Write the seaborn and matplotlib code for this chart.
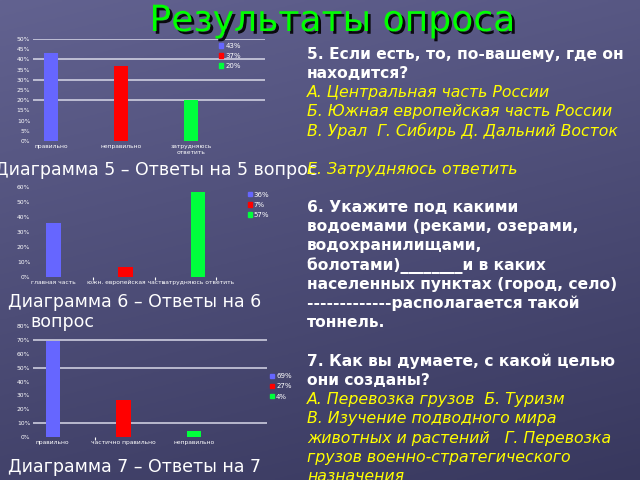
import numpy as np
import matplotlib
matplotlib.use("Agg")
import matplotlib.pyplot as plt
import matplotlib.patheffects as pe
from matplotlib.patches import Patch
import seaborn as sns

# --- data -------------------------------------------------------------
q5_labels = ["правильно", "неправильно", "затрудняюсь\nответить"]
q5_values = [43, 37, 20]
q5_legend = ["43%", "37%", "20%"]

q6_labels = ["главная часть", "южн. европейская часть", "затрудняюсь ответить"]
q6_values = [36, 7, 57]
q6_legend = ["36%", "7%", "57%"]

q7_labels = ["правильно", "частично правильно", "неправильно"]
q7_values = [69, 27, 4]
q7_legend = ["69%", "27%", "4%"]

bar_colors = ["#6666ff", "#ff0000", "#00ff3c"]

right_lines = [
    ("5. Если есть, то, по-вашему, где он", "q"),
    ("находится?", "q"),
    ("А. Центральная часть России", "a"),
    ("Б. Южная европейская часть России", "a"),
    ("В. Урал  Г. Сибирь Д. Дальний Восток", "a"),
    ("", "q"),
    ("Е. Затрудняюсь ответить", "a"),
    ("", "q"),
    ("6. Укажите под какими", "q"),
    ("водоемами (реками, озерами,", "q"),
    ("водохранилищами,", "q"),
    ("болотами)________и в каких", "q"),
    ("населенных пунктах (город, село)", "q"),
    ("-------------располагается такой", "q"),
    ("тоннель.", "q"),
    ("", "q"),
    ("7. Как вы думаете, с какой целью", "q"),
    ("они созданы?", "q"),
    ("А. Перевозка грузов  Б. Туризм", "a"),
    ("В. Изучение подводного мира", "a"),
    ("животных и растений   Г. Перевозка", "a"),
    ("грузов военно-стратегического", "a"),
    ("назначения", "a"),
]

W, H = 640, 480


def px(x, y):
    return x / W, 1 - y / H


fig = plt.figure(figsize=(6.4, 4.8), dpi=100)

# background gradient
bg = fig.add_axes([0, 0, 1, 1])
yy, xx = np.mgrid[0:1:200j, 0:1:200j]
t = np.clip(0.75 * yy + 0.25 * xx, 0, 1)
top = np.array([0x62, 0x62, 0x90]) / 255
bot = np.array([0x38, 0x38, 0x5e]) / 255
img = top[None, None, :] * (1 - t[..., None]) + bot[None, None, :] * t[..., None]
bg.imshow(img, aspect="auto", extent=[0, 1, 0, 1])
bg.axis("off")


def draw_chart(rect, labels, values, legend, ymax, ystep, grid, xlim, leg_anchor, minor=()):
    ax = fig.add_axes(rect)
    ax.patch.set_alpha(0)
    sns.barplot(x=labels, y=values, hue=labels, palette=bar_colors, width=0.2,
                saturation=1, legend=False, ax=ax, zorder=2)
    for g in grid:
        ax.axhline(g, color="#d8d8e8", lw=1.1, zorder=1)
    ax.set_ylim(0, ymax)
    ax.set_xlim(*xlim)
    ticks = list(range(0, ymax + 1, ystep))
    ax.set_yticks(ticks)
    ax.set_yticklabels([f"{v}%" for v in ticks])
    ax.set_xlabel("")
    ax.set_ylabel("")
    ax.tick_params(axis="both", colors="white", labelsize=4.3, length=0, pad=2)
    if minor:
        ax.set_xticks(list(minor), minor=True)
        ax.tick_params(axis="x", which="minor", colors="white", length=2, width=0.8)
    for s in ax.spines.values():
        s.set_visible(False)
    handles = [Patch(color=c) for c in bar_colors]
    ax.legend(handles, legend, loc="upper left", bbox_to_anchor=leg_anchor,
              frameon=False, fontsize=5, labelcolor="white", handlelength=0.6,
              handleheight=0.6, handletextpad=0.3, labelspacing=0.6, borderaxespad=0)
    return ax


l, b = px(33, 141)
draw_chart([l, b, 232 / W, 102 / H], q5_labels, q5_values, q5_legend, 50, 5,
           [20, 30, 40, 50], (-0.26, 3.06), (0.79, 0.99))
l, b = px(33, 277)
draw_chart([l, b, 234 / W, 90 / H], q6_labels, q6_values, q6_legend, 60, 10,
           [], (-0.28, 2.95), (0.905, 0.98), minor=(0.55, 1.4, 2.25))
l, b = px(33, 437)
draw_chart([l, b, 234 / W, 111 / H], q7_labels, q7_values, q7_legend, 80, 10,
           [10, 50, 70], (-0.28, 3.03), (1.0, 0.6), minor=(0.6,))

# title
x, y = px(332, 31)
fig.text(x, y, "Результаты опроса", color="#00ff00", fontsize=26, ha="center",
         va="baseline",
         path_effects=[pe.withSimplePatchShadow(offset=(2, -2), shadow_rgbFace="black", alpha=0.9)])

# captions
cap = dict(color="white", fontsize=12.5, va="center", ha="left")
fig.text(*px(-5, 170), "Диаграмма 5 – Ответы на 5 вопрос", **cap)
fig.text(*px(8, 302), "Диаграмма 6 – Ответы на 6", **cap)
fig.text(*px(30, 322), "вопрос", **cap)
fig.text(*px(8, 467), "Диаграмма 7 – Ответы на 7", **cap)

# right-hand text
y0, step = 54, 19.2
for i, (txt, kind) in enumerate(right_lines):
    if not txt:
        continue
    if kind == "q":
        fig.text(*px(307, y0 + i * step), txt, color="white", fontsize=11.2,
                 fontweight="bold", va="center", ha="left")
    else:
        fig.text(*px(307, y0 + i * step), txt, color="#ffff00", fontsize=11.3,
                 style="italic", va="center", ha="left")

fig.savefig("out.png", dpi=100)
